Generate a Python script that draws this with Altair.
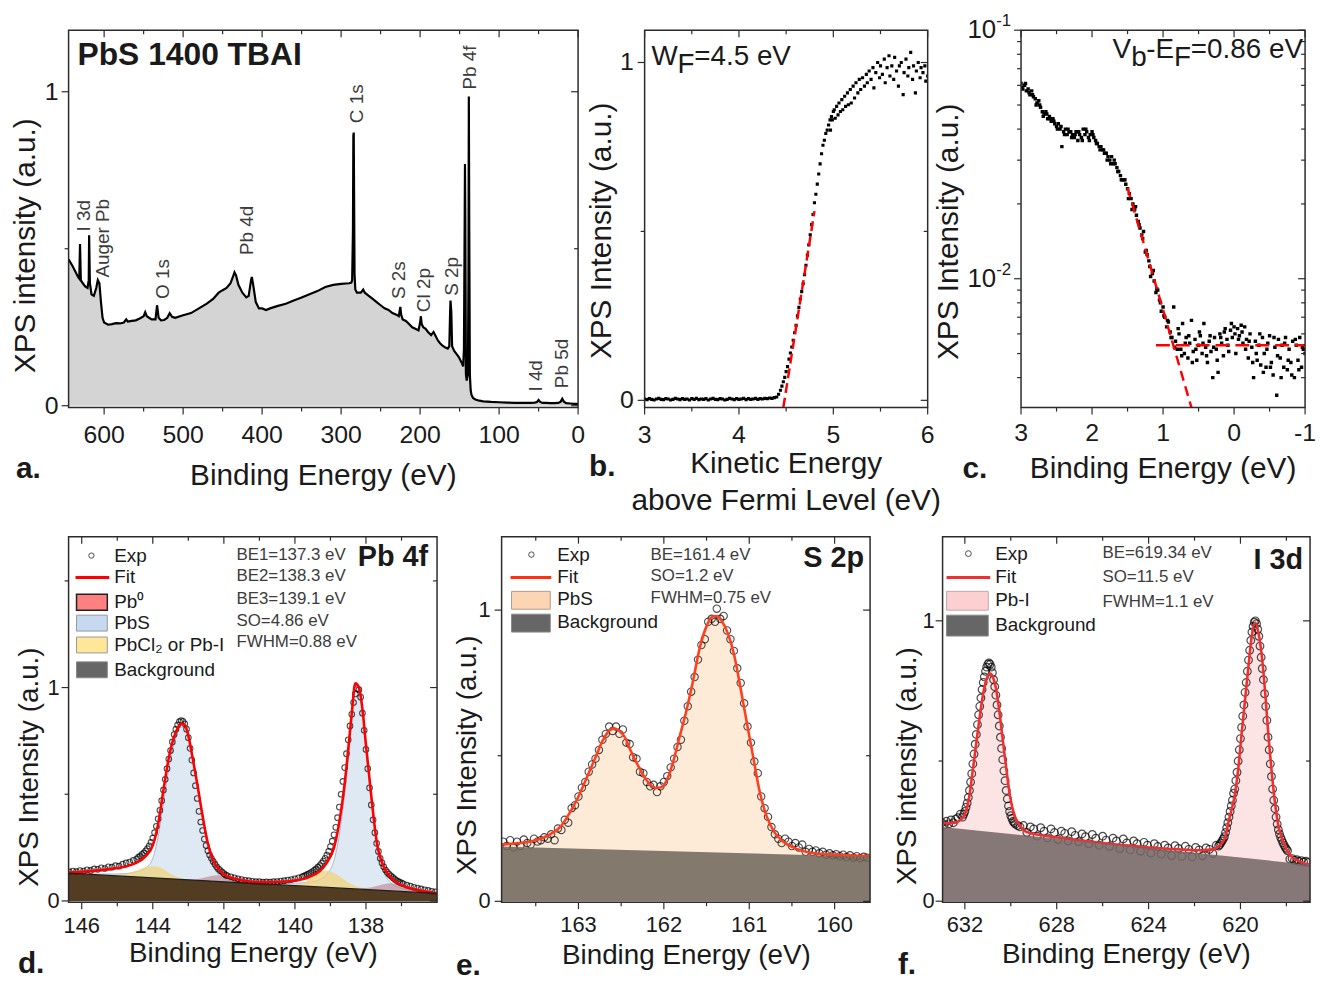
import altair as alt
import pandas as pd

FONT = "Liberation Sans"
INK = "#1a1a1a"
GREY_TXT = "#3c3c3c"
FRAME = "#2b2b2b"

# ---------------- panel a : survey spectrum (BE eV, intensity) ----------------
SURVEY = [(645, 0.466), (640, 0.445), (636, 0.425), (633, 0.41), (631.5, 0.405), (630.5, 0.515),
          (629.5, 0.40), (627, 0.39), (624, 0.38), (621, 0.375), (619.5, 0.40), (619, 0.543),
          (618, 0.39), (616, 0.355), (613, 0.35), (610, 0.375), (608, 0.40), (606, 0.39),
          (604, 0.33), (602, 0.28), (600, 0.265), (595, 0.258), (590, 0.26), (585, 0.263),
          (580, 0.262), (575, 0.265), (572, 0.275), (570, 0.268), (565, 0.27), (560, 0.272),
          (555, 0.278), (550, 0.285), (548, 0.298), (546, 0.285), (540, 0.275), (535, 0.275),
          (533, 0.32), (531, 0.28), (528, 0.272), (524, 0.273), (520, 0.28), (517, 0.295),
          (514, 0.283), (510, 0.28), (500, 0.288), (490, 0.295), (480, 0.31), (470, 0.325),
          (462, 0.34), (455, 0.36), (450, 0.368), (445, 0.375), (440, 0.39), (437, 0.41),
          (435, 0.425), (433, 0.415), (430, 0.385), (425, 0.36), (420, 0.345), (417, 0.35),
          (414, 0.40), (413, 0.41), (411, 0.38), (408, 0.33), (404, 0.31), (400, 0.31),
          (395, 0.305), (390, 0.31), (380, 0.318), (370, 0.325), (360, 0.335), (350, 0.345),
          (340, 0.355), (330, 0.365), (320, 0.378), (310, 0.385), (300, 0.388), (290, 0.39),
          (287, 0.392), (286, 0.40), (285, 0.56), (284.5, 0.86), (284, 0.87), (283.5, 0.65),
          (283, 0.42), (282, 0.37), (280, 0.36), (275, 0.36), (272, 0.37), (270, 0.36),
          (265, 0.35), (260, 0.34), (255, 0.33), (250, 0.32), (245, 0.31), (240, 0.305),
          (235, 0.295), (230, 0.29), (227, 0.285), (226, 0.30), (225, 0.315), (224, 0.29),
          (222, 0.275), (218, 0.27), (214, 0.26), (210, 0.25), (206, 0.245), (202, 0.24),
          (200, 0.265), (199, 0.285), (198, 0.26), (196, 0.25), (193, 0.245), (190, 0.235),
          (186, 0.225), (183, 0.235), (181, 0.225), (178, 0.21), (175, 0.20), (172, 0.192),
          (168, 0.185), (165, 0.182), (163, 0.19), (162, 0.30), (161.5, 0.335), (160.5, 0.30),
          (159.5, 0.19), (157, 0.175), (154, 0.165), (151, 0.155), (149, 0.145), (147, 0.135),
          (145.5, 0.125), (144.5, 0.18), (143.5, 0.62), (143.2, 0.77), (142.8, 0.62), (142, 0.10),
          (141, 0.08), (139.5, 0.10), (138.8, 0.40), (138.3, 0.985), (137.8, 0.60), (137, 0.10),
          (136, 0.05), (135, 0.035), (133, 0.025), (130, 0.02), (125, 0.016), (120, 0.014),
          (110, 0.012), (100, 0.011), (90, 0.010), (80, 0.009), (70, 0.009), (60, 0.009),
          (55, 0.010), (52, 0.012), (50, 0.018), (48, 0.012), (45, 0.009), (40, 0.009),
          (35, 0.008), (30, 0.008), (25, 0.009), (22, 0.013), (20, 0.022), (18, 0.013),
          (15, 0.008), (10, 0.007), (5, 0.006), (0, 0.006)]
PEAK_LABELS = ["I 3d", "Auger Pb", "O 1s", "Pb 4d", "C 1s", "S 2s", "Cl 2p", "S 2p", "Pb 4f", "I 4d", "Pb 5d"]
PEAK_LABEL_BE = [625, 602, 526, 419, 279.5, 227, 195, 159, 137, 53, 20]
PEAK_LABEL_I = [0.555, 0.408, 0.34, 0.48, 0.90, 0.34, 0.298, 0.35, 1.007, 0.045, 0.056]

# ---------------- panel b : secondary electron cut-off (KE eV, intensity) ----------------
WF_BASE_KE = [3.0, 3.025, 3.05, 3.075, 3.1, 3.125, 3.15, 3.175, 3.2, 3.225, 3.25, 3.275, 3.3, 3.325,
              3.35, 3.375, 3.4, 3.425, 3.45, 3.475, 3.5, 3.525, 3.55, 3.575, 3.6, 3.625, 3.65, 3.675,
              3.7, 3.725, 3.75, 3.775, 3.8, 3.825, 3.85, 3.875, 3.9, 3.925, 3.95, 3.975, 4.0, 4.025,
              4.05, 4.075, 4.1, 4.125, 4.15, 4.175, 4.2, 4.225, 4.25, 4.275, 4.3, 4.325, 4.35, 4.375]
WF_BASE_I = [0.004, 0.002, 0.005, 0.003, 0.001, 0.004, 0.006, 0.003, 0.002, 0.005,
             0.004, 0.001, 0.003, 0.006, 0.004, 0.002, 0.005, 0.003, 0.004, 0.001,
             0.005, 0.003, 0.006, 0.002, 0.004, 0.003, 0.005, 0.001, 0.004, 0.006,
             0.003, 0.002, 0.005, 0.004, 0.001, 0.003, 0.006, 0.004, 0.002, 0.005,
             0.003, 0.004, 0.006, 0.002, 0.005, 0.003, 0.004, 0.006, 0.003, 0.005,
             0.004, 0.006, 0.005, 0.007, 0.006, 0.008]
WF_EDGE = [(4.40, 0.010), (4.42, 0.018), (4.44, 0.030), (4.455, 0.042), (4.47, 0.055), (4.485, 0.068),
           (4.50, 0.085), (4.515, 0.100), (4.53, 0.122), (4.545, 0.140), (4.56, 0.158), (4.575, 0.178),
           (4.59, 0.20), (4.605, 0.222), (4.62, 0.25), (4.635, 0.275), (4.65, 0.30), (4.665, 0.322),
           (4.68, 0.345), (4.695, 0.372), (4.71, 0.40), (4.725, 0.43), (4.74, 0.46), (4.755, 0.49),
           (4.77, 0.52), (4.785, 0.55), (4.80, 0.585), (4.815, 0.61), (4.83, 0.64), (4.845, 0.67),
           (4.86, 0.70), (4.875, 0.73), (4.89, 0.755), (4.905, 0.77), (4.92, 0.79), (4.935, 0.80),
           (4.95, 0.815), (4.965, 0.83), (4.97, 0.80), (4.98, 0.84), (4.99, 0.83), (5.0, 0.855),
           (5.01, 0.86), (5.02, 0.835), (5.035, 0.87), (5.05, 0.845), (5.06, 0.88), (5.075, 0.855),
           (5.09, 0.89), (5.10, 0.86), (5.12, 0.90), (5.13, 0.87), (5.15, 0.91), (5.16, 0.875),
           (5.18, 0.92), (5.19, 0.88), (5.21, 0.93), (5.225, 0.895), (5.24, 0.94), (5.26, 0.91),
           (5.275, 0.95), (5.29, 0.92), (5.31, 0.955), (5.33, 0.93), (5.35, 0.965), (5.36, 0.94),
           (5.38, 0.975), (5.40, 0.95), (5.42, 0.985), (5.43, 0.925), (5.45, 0.97), (5.47, 1.0),
           (5.49, 0.955), (5.50, 0.99), (5.52, 0.965), (5.54, 1.01), (5.55, 0.94), (5.57, 0.985),
           (5.59, 1.02), (5.60, 0.96), (5.62, 0.99), (5.64, 0.95), (5.65, 1.015), (5.67, 0.975),
           (5.69, 0.93), (5.70, 0.99), (5.72, 1.0), (5.74, 0.905), (5.75, 0.97), (5.77, 1.01),
           (5.79, 0.96), (5.80, 0.985), (5.82, 1.03), (5.84, 0.95), (5.85, 0.99), (5.87, 0.91),
           (5.88, 0.975), (5.90, 1.0), (5.92, 0.955), (5.93, 0.985), (5.95, 0.97), (5.97, 0.99),
           (5.98, 0.945), (6.0, 0.96)]
WF_FIT_KE = [4.47, 4.80]
WF_FIT_I = [-0.0215, 0.56]

# ---------------- panel c : valence band edge (BE eV, log intensity) ----------------
VB = [(3.000, 0.061), (2.975, 0.058), (2.950, 0.060), (2.925, 0.057), (2.900, 0.058), (2.875, 0.055),
      (2.850, 0.057), (2.825, 0.054), (2.800, 0.053), (2.775, 0.051), (2.750, 0.052), (2.725, 0.049),
      (2.700, 0.047), (2.675, 0.046), (2.650, 0.047), (2.625, 0.044), (2.600, 0.045), (2.575, 0.043),
      (2.550, 0.044), (2.525, 0.042), (2.500, 0.041), (2.475, 0.042), (2.450, 0.040), (2.425, 0.034),
      (2.400, 0.039), (2.375, 0.040), (2.350, 0.038), (2.325, 0.039), (2.300, 0.039), (2.275, 0.038),
      (2.250, 0.037), (2.225, 0.039), (2.200, 0.036), (2.175, 0.038), (2.150, 0.037), (2.125, 0.040),
      (2.100, 0.038), (2.075, 0.039), (2.050, 0.037), (2.025, 0.038), (2.000, 0.039), (1.975, 0.037),
      (1.950, 0.036), (1.925, 0.035), (1.900, 0.034), (1.875, 0.034), (1.850, 0.033), (1.825, 0.032),
      (1.800, 0.032), (1.775, 0.031), (1.750, 0.030), (1.725, 0.031), (1.700, 0.029), (1.675, 0.029),
      (1.650, 0.028), (1.625, 0.027), (1.600, 0.026), (1.575, 0.025), (1.550, 0.025), (1.525, 0.024),
      (1.500, 0.023), (1.475, 0.022), (1.450, 0.021), (1.425, 0.020), (1.400, 0.019), (1.375, 0.018),
      (1.350, 0.017), (1.325, 0.016), (1.300, 0.015), (1.275, 0.0155), (1.250, 0.0128), (1.225, 0.0125),
      (1.200, 0.0118), (1.175, 0.0102), (1.150, 0.0105), (1.125, 0.0098), (1.100, 0.0088), (1.075, 0.0090),
      (1.050, 0.0082), (1.025, 0.0074), (1.000, 0.0077), (0.975, 0.0070), (0.950, 0.0064), (0.925, 0.0067),
      (0.900, 0.0061), (0.875, 0.0058), (0.850, 0.0077), (0.825, 0.0056), (0.800, 0.0052),
      (0.775, 0.0060), (0.750, 0.0052), (0.725, 0.0066), (0.700, 0.0050), (0.675, 0.0058), (0.650, 0.0048),
      (0.625, 0.0055), (0.600, 0.0068), (0.575, 0.0051), (0.550, 0.0057), (0.525, 0.0047), (0.500, 0.0054),
      (0.475, 0.0059), (0.450, 0.0050), (0.425, 0.0066), (0.400, 0.0053), (0.375, 0.0046), (0.350, 0.0056),
      (0.325, 0.0051), (0.300, 0.0040), (0.275, 0.0058), (0.250, 0.0052), (0.225, 0.0042), (0.200, 0.0060),
      (0.175, 0.0055), (0.150, 0.0049), (0.125, 0.0063), (0.100, 0.0057), (0.075, 0.0051), (0.050, 0.0062),
      (0.025, 0.0058), (0.000, 0.0064), (-0.025, 0.0050), (-0.050, 0.0063), (-0.075, 0.0059), (-0.100, 0.0065),
      (-0.125, 0.0055), (-0.150, 0.0064), (-0.175, 0.0057), (-0.200, 0.0048), (-0.225, 0.0060), (-0.250, 0.0053),
      (-0.275, 0.0040), (-0.300, 0.0056), (-0.325, 0.0047), (-0.350, 0.0054), (-0.375, 0.0045), (-0.400, 0.0058),
      (-0.425, 0.0050), (-0.450, 0.0044), (-0.475, 0.0055), (-0.500, 0.0059), (-0.525, 0.0046), (-0.550, 0.0041),
      (-0.575, 0.0053), (-0.600, 0.0034), (-0.625, 0.0057), (-0.650, 0.0048), (-0.675, 0.0054), (-0.700, 0.0044),
      (-0.725, 0.0058), (-0.750, 0.0043), (-0.775, 0.0052), (-0.800, 0.0046), (-0.825, 0.0056), (-0.850, 0.0040),
      (-0.875, 0.0054), (-0.900, 0.0047), (-0.925, 0.0058), (-0.950, 0.0044), (-0.975, 0.0052), (-1.000, 0.0050)]
VB_EXTRA = [(2.9875, 0.059), (2.9375, 0.061), (2.8875, 0.056), (2.8375, 0.055), (2.7875, 0.050), (2.7375, 0.050),
            (2.6875, 0.045), (2.6375, 0.046), (2.5875, 0.044), (2.5375, 0.043), (2.4875, 0.040), (2.4375, 0.041),
            (2.3875, 0.038), (2.3375, 0.040), (2.2875, 0.037), (2.2375, 0.038), (2.1875, 0.039), (2.1375, 0.036),
            (2.0875, 0.040), (2.0375, 0.036), (1.9875, 0.038), (1.9375, 0.035), (1.8875, 0.033), (1.8375, 0.033),
            (1.7875, 0.030), (1.7375, 0.029), (1.6875, 0.030), (1.6375, 0.027), (1.5875, 0.025), (1.5375, 0.025),
            (1.4875, 0.021), (1.4375, 0.019), (1.3875, 0.0195), (1.3375, 0.0165), (1.2875, 0.0145), (1.2375, 0.0130),
            (1.1875, 0.0112), (1.1375, 0.0108), (1.0875, 0.0091), (1.0375, 0.0080), (0.9875, 0.0071), (0.9375, 0.0068),
            (0.8875, 0.0058), (0.8375, 0.0053), (0.7875, 0.0063), (0.7375, 0.0049), (0.6875, 0.0055), (0.6375, 0.0059),
            (0.5875, 0.0046), (0.5375, 0.0052), (0.4875, 0.0061), (0.4375, 0.0055), (0.3875, 0.0049), (0.3375, 0.0059),
            (0.2875, 0.0053), (0.2375, 0.0047), (0.1875, 0.0058), (0.1375, 0.0061), (0.0875, 0.0054), (0.0375, 0.0066),
            (-0.0125, 0.0060), (-0.0625, 0.0057), (-0.1125, 0.0061), (-0.1625, 0.0052), (-0.2125, 0.0056),
            (-0.2625, 0.0046), (-0.3125, 0.0050), (-0.3625, 0.0060), (-0.4125, 0.0042), (-0.4625, 0.0052),
            (-0.5125, 0.0044), (-0.5625, 0.0058), (-0.6125, 0.0049), (-0.6625, 0.0040), (-0.7125, 0.0055),
            (-0.7625, 0.0047), (-0.8125, 0.0041), (-0.8625, 0.0057), (-0.9125, 0.0043), (-0.9625, 0.0053)]
VB_EDGE_FIT_BE = [1.5, 0.6]
VB_EDGE_FIT_I = [0.0232, 0.00303]
VB_BASE_FIT_BE = [1.1, -1.0]
VB_BASE_FIT_I = [0.0054, 0.0054]

# ---------------- panel d : Pb 4f ----------------
PB4F_FIT = [(146.4, 0.133), (146.0, 0.137), (145.6, 0.142), (145.2, 0.149), (144.8, 0.160), (144.5, 0.176),
            (144.2, 0.21), (144.0, 0.26), (143.85, 0.36), (143.7, 0.52), (143.55, 0.67), (143.4, 0.77),
            (143.3, 0.81), (143.2, 0.83), (143.1, 0.825), (143.0, 0.775), (142.9, 0.69), (142.75, 0.55),
            (142.6, 0.40), (142.45, 0.27), (142.3, 0.19), (142.1, 0.14), (141.9, 0.115), (141.6, 0.10),
            (141.2, 0.09), (140.8, 0.088), (140.4, 0.09), (140.0, 0.096), (139.6, 0.112), (139.3, 0.14),
            (139.1, 0.18), (138.9, 0.25), (138.75, 0.37), (138.6, 0.55), (138.5, 0.71), (138.4, 0.88),
            (138.3, 1.02), (138.2, 1.0), (138.1, 0.90), (138.0, 0.73), (137.85, 0.49), (137.7, 0.28),
            (137.5, 0.16), (137.3, 0.11), (137.1, 0.083), (136.8, 0.062), (136.4, 0.047), (136.0, 0.037)]
PB4F_PBS = [(146.4, 0.131), (146.0, 0.128), (145.6, 0.126), (145.2, 0.126), (144.8, 0.128), (144.5, 0.135),
            (144.2, 0.155), (144.0, 0.20), (143.85, 0.30), (143.7, 0.46), (143.55, 0.62), (143.4, 0.74),
            (143.3, 0.79), (143.2, 0.815), (143.1, 0.81), (143.0, 0.765), (142.9, 0.68), (142.75, 0.54),
            (142.6, 0.385), (142.45, 0.25), (142.3, 0.165), (142.1, 0.115), (141.9, 0.098), (141.6, 0.09),
            (141.2, 0.085), (140.8, 0.082), (140.4, 0.082), (140.0, 0.083), (139.6, 0.088), (139.3, 0.10),
            (139.1, 0.125), (138.9, 0.19), (138.75, 0.31), (138.6, 0.50), (138.5, 0.66), (138.4, 0.85),
            (138.3, 0.99), (138.2, 0.985), (138.1, 0.885), (138.0, 0.71), (137.85, 0.47), (137.7, 0.255),
            (137.5, 0.135), (137.3, 0.085), (137.1, 0.066), (136.8, 0.052), (136.4, 0.042), (136.0, 0.035)]
PB4F_PBCL = [(146.4, 0.130), (145.6, 0.123), (145.2, 0.121), (144.8, 0.126), (144.5, 0.14), (144.2, 0.158),
             (144.0, 0.163), (143.85, 0.160), (143.7, 0.148), (143.55, 0.132), (143.4, 0.118), (143.2, 0.106),
             (143.0, 0.100), (142.6, 0.096), (140.4, 0.076), (140.0, 0.077), (139.7, 0.09), (139.45, 0.12),
             (139.2, 0.143), (139.0, 0.138), (138.8, 0.12), (138.6, 0.098), (138.4, 0.078), (138.2, 0.064),
             (137.85, 0.055), (136.0, 0.035)]
PB4F_PB0 = [(146.4, 0.130), (143.0, 0.099), (142.7, 0.104), (142.45, 0.113), (142.2, 0.12), (141.95, 0.113),
            (141.7, 0.098), (141.4, 0.087), (141.0, 0.081), (138.3, 0.057), (138.0, 0.06), (137.75, 0.068),
            (137.5, 0.078), (137.3, 0.083), (137.1, 0.079), (136.85, 0.066), (136.6, 0.05), (136.3, 0.04),
            (136.0, 0.035)]
PB4F_BG = [(146.4, 0.130), (136.0, 0.035)]
PB4F_EXP = [(146.35, 0.136), (146.25, 0.14), (146.15, 0.137), (146.05, 0.142), (145.95, 0.14), (145.85, 0.146),
            (145.75, 0.143), (145.65, 0.15), (145.55, 0.148), (145.45, 0.155), (145.35, 0.152), (145.25, 0.16),
            (145.15, 0.158), (145.05, 0.165), (144.95, 0.163), (144.85, 0.172), (144.75, 0.178), (144.65, 0.182),
            (144.55, 0.19), (144.45, 0.197), (144.40, 0.205), (144.35, 0.21), (144.30, 0.218), (144.25, 0.225),
            (144.20, 0.235), (144.15, 0.245), (144.10, 0.258), (144.05, 0.275), (144.00, 0.295), (143.95, 0.32),
            (143.90, 0.35), (143.85, 0.385), (143.80, 0.425), (143.75, 0.47), (143.70, 0.52), (143.65, 0.57),
            (143.60, 0.62), (143.55, 0.665), (143.50, 0.705), (143.45, 0.745), (143.40, 0.78), (143.35, 0.805),
            (143.30, 0.825), (143.25, 0.84), (143.20, 0.845), (143.15, 0.842), (143.10, 0.83), (143.05, 0.805),
            (143.00, 0.765), (142.95, 0.715), (142.90, 0.66), (142.85, 0.60), (142.80, 0.54), (142.75, 0.48),
            (142.70, 0.42), (142.65, 0.37), (142.60, 0.33), (142.55, 0.29), (142.50, 0.26), (142.45, 0.235),
            (142.40, 0.215), (142.35, 0.20), (142.30, 0.185), (142.25, 0.172), (142.20, 0.16), (142.15, 0.15),
            (142.10, 0.142), (142.05, 0.135), (142.00, 0.128), (141.95, 0.122), (141.90, 0.118), (141.8, 0.113),
            (141.7, 0.108), (141.6, 0.104), (141.5, 0.10), (141.4, 0.097), (141.3, 0.095), (141.2, 0.092),
            (141.1, 0.09), (141.0, 0.09), (140.9, 0.088), (140.8, 0.089), (140.7, 0.088), (140.6, 0.09),
            (140.5, 0.091), (140.4, 0.093), (140.3, 0.095), (140.2, 0.098), (140.1, 0.10), (140.0, 0.104),
            (139.9, 0.108), (139.8, 0.113), (139.75, 0.116), (139.70, 0.12), (139.65, 0.124), (139.60, 0.128),
            (139.55, 0.133), (139.50, 0.138), (139.45, 0.144), (139.40, 0.15), (139.35, 0.158), (139.30, 0.166),
            (139.25, 0.176), (139.20, 0.187), (139.15, 0.20), (139.10, 0.215), (139.05, 0.232), (139.00, 0.255),
            (138.95, 0.28), (138.90, 0.31), (138.85, 0.345), (138.80, 0.39), (138.75, 0.44), (138.70, 0.50),
            (138.65, 0.56), (138.60, 0.625), (138.55, 0.69), (138.50, 0.755), (138.45, 0.82), (138.40, 0.875),
            (138.35, 0.93), (138.30, 0.97), (138.25, 0.995), (138.20, 0.99), (138.15, 0.955), (138.10, 0.88),
            (138.05, 0.80), (138.00, 0.71), (137.95, 0.62), (137.90, 0.53), (137.85, 0.45), (137.80, 0.38),
            (137.75, 0.32), (137.70, 0.27), (137.65, 0.232), (137.60, 0.20), (137.55, 0.178), (137.50, 0.16),
            (137.45, 0.145), (137.40, 0.134), (137.35, 0.125), (137.30, 0.118), (137.25, 0.11), (137.20, 0.103),
            (137.15, 0.097), (137.10, 0.092), (137.05, 0.088), (137.00, 0.084), (136.95, 0.08), (136.85, 0.074),
            (136.75, 0.069), (136.65, 0.064), (136.55, 0.06), (136.45, 0.056), (136.35, 0.052), (136.25, 0.049),
            (136.15, 0.045), (136.05, 0.042)]

# ---------------- panel e : S 2p ----------------
S2P_FIT = [(163.90, 0.195), (163.70, 0.200), (163.55, 0.206), (163.40, 0.220), (163.30, 0.236), (163.20, 0.260),
           (163.10, 0.305), (163.00, 0.36), (162.90, 0.427), (162.80, 0.495), (162.72, 0.55), (162.65, 0.583),
           (162.59, 0.594), (162.52, 0.585), (162.45, 0.56), (162.40, 0.525), (162.30, 0.465), (162.20, 0.415),
           (162.10, 0.39), (162.03, 0.392), (161.96, 0.42), (161.90, 0.47), (161.82, 0.56), (161.74, 0.65),
           (161.66, 0.755), (161.58, 0.87), (161.50, 0.945), (161.43, 0.978), (161.38, 0.98), (161.32, 0.962),
           (161.25, 0.92), (161.18, 0.85), (161.10, 0.73), (161.02, 0.60), (160.95, 0.49), (160.88, 0.38),
           (160.80, 0.295), (160.70, 0.235), (160.60, 0.205), (160.45, 0.181), (160.30, 0.168), (160.10, 0.162),
           (159.90, 0.159), (159.585, 0.155)]
S2P_BG = [(163.90, 0.188), (159.585, 0.153)]
S2P_EXP = [(163.88, 0.205), (163.84, 0.19), (163.80, 0.21), (163.76, 0.185), (163.72, 0.205), (163.68, 0.19),
           (163.64, 0.212), (163.60, 0.20), (163.56, 0.195), (163.52, 0.215), (163.48, 0.205), (163.44, 0.21),
           (163.40, 0.22), (163.36, 0.215), (163.32, 0.23), (163.28, 0.21), (163.24, 0.25), (163.20, 0.245),
           (163.16, 0.28), (163.12, 0.27), (163.08, 0.32), (163.04, 0.33), (163.00, 0.36), (162.96, 0.39),
           (162.92, 0.41), (162.88, 0.445), (162.84, 0.47), (162.80, 0.49), (162.76, 0.52), (162.72, 0.555),
           (162.68, 0.575), (162.64, 0.60), (162.60, 0.585), (162.56, 0.60), (162.52, 0.575), (162.48, 0.59),
           (162.44, 0.545), (162.40, 0.54), (162.36, 0.495), (162.32, 0.49), (162.28, 0.445), (162.24, 0.44),
           (162.20, 0.41), (162.16, 0.395), (162.12, 0.40), (162.08, 0.375), (162.04, 0.395), (162.00, 0.41),
           (161.96, 0.43), (161.92, 0.46), (161.88, 0.49), (161.84, 0.53), (161.80, 0.555), (161.76, 0.62),
           (161.72, 0.67), (161.68, 0.72), (161.64, 0.77), (161.60, 0.83), (161.56, 0.88), (161.52, 0.90),
           (161.48, 0.96), (161.44, 0.97), (161.40, 0.96), (161.38, 1.005), (161.34, 0.97), (161.30, 0.98),
           (161.26, 0.93), (161.22, 0.90), (161.18, 0.86), (161.14, 0.80), (161.10, 0.75), (161.06, 0.68),
           (161.02, 0.60), (160.98, 0.545), (160.94, 0.48), (160.90, 0.44), (160.86, 0.36), (160.82, 0.32),
           (160.78, 0.29), (160.74, 0.255), (160.70, 0.23), (160.66, 0.215), (160.62, 0.20), (160.58, 0.215),
           (160.54, 0.205), (160.50, 0.19), (160.46, 0.20), (160.42, 0.185), (160.38, 0.195), (160.34, 0.17),
           (160.30, 0.18), (160.26, 0.17), (160.22, 0.175), (160.18, 0.165), (160.14, 0.17), (160.10, 0.16),
           (160.06, 0.165), (160.02, 0.158), (159.98, 0.162), (159.94, 0.155), (159.90, 0.16), (159.86, 0.152),
           (159.82, 0.158), (159.78, 0.15), (159.74, 0.155), (159.70, 0.148), (159.66, 0.153), (159.62, 0.15)]

# ---------------- panel f : I 3d ----------------
I3D_FIT = [(633.0, 0.278), (632.6, 0.279), (632.35, 0.282), (632.2, 0.29), (632.0, 0.31), (631.8, 0.378),
           (631.65, 0.47), (631.5, 0.566), (631.35, 0.66), (631.2, 0.742), (631.05, 0.795), (630.9, 0.812),
           (630.78, 0.80), (630.66, 0.765), (630.5, 0.68), (630.37, 0.589), (630.22, 0.49), (630.08, 0.40),
           (629.95, 0.34), (629.79, 0.296), (629.6, 0.27), (629.36, 0.249), (628.8, 0.237), (628.3, 0.231),
           (627.5, 0.222), (626.5, 0.212), (625.5, 0.203), (624.5, 0.196), (623.5, 0.189), (622.5, 0.184),
           (621.8, 0.182), (621.3, 0.184), (621.05, 0.19), (620.9, 0.20), (620.68, 0.225), (620.5, 0.29),
           (620.25, 0.378), (620.1, 0.47), (619.96, 0.589), (619.8, 0.72), (619.67, 0.824), (619.5, 0.95),
           (619.36, 0.994), (619.2, 0.95), (619.05, 0.86), (618.9, 0.72), (618.78, 0.589), (618.65, 0.47),
           (618.5, 0.354), (618.35, 0.27), (618.2, 0.225), (618.0, 0.185), (617.8, 0.161), (617.5, 0.145),
           (617.0, 0.131)]
I3D_BG = [(632.97, 0.265), (616.97, 0.130)]
I3D_EXP = [(633.0, 0.28), (632.9, 0.272), (632.8, 0.285), (632.7, 0.276), (632.6, 0.29), (632.5, 0.28),
           (632.4, 0.293), (632.3, 0.298), (632.2, 0.31), (632.10, 0.30), (632.05, 0.31), (632.00, 0.32),
           (631.95, 0.335), (631.90, 0.35), (631.85, 0.37), (631.80, 0.395), (631.75, 0.425), (631.70, 0.455),
           (631.65, 0.49), (631.60, 0.525), (631.55, 0.56), (631.50, 0.595), (631.45, 0.63), (631.40, 0.665),
           (631.35, 0.695), (631.30, 0.725), (631.25, 0.755), (631.20, 0.78), (631.15, 0.80), (631.10, 0.82),
           (631.05, 0.835), (631.00, 0.845), (630.95, 0.85), (630.90, 0.845), (630.85, 0.835), (630.80, 0.815),
           (630.75, 0.79), (630.70, 0.765), (630.65, 0.735), (630.60, 0.70), (630.55, 0.665), (630.50, 0.625),
           (630.45, 0.585), (630.40, 0.545), (630.35, 0.505), (630.30, 0.465), (630.25, 0.43), (630.20, 0.395),
           (630.15, 0.365), (630.10, 0.34), (630.05, 0.32), (630.00, 0.305), (629.95, 0.295), (629.90, 0.285),
           (629.85, 0.28), (629.80, 0.275), (629.70, 0.27), (629.60, 0.265),
           (629.45, 0.27), (629.30, 0.245), (629.15, 0.265), (629.00, 0.258), (628.85, 0.232), (628.70, 0.262),
           (628.55, 0.25), (628.40, 0.226), (628.25, 0.258), (628.10, 0.245), (627.95, 0.22), (627.80, 0.25),
           (627.65, 0.242), (627.50, 0.215), (627.35, 0.248), (627.20, 0.235), (627.05, 0.212), (626.90, 0.24),
           (626.75, 0.23), (626.60, 0.205), (626.45, 0.238), (626.30, 0.225), (626.15, 0.20), (626.00, 0.232),
           (625.85, 0.218), (625.70, 0.195), (625.55, 0.225), (625.40, 0.215), (625.25, 0.188), (625.10, 0.222),
           (624.95, 0.208), (624.80, 0.183), (624.65, 0.215), (624.50, 0.205), (624.35, 0.178), (624.20, 0.21),
           (624.05, 0.20), (623.90, 0.172), (623.75, 0.205), (623.60, 0.195), (623.45, 0.168), (623.30, 0.20),
           (623.15, 0.19), (623.00, 0.163), (622.85, 0.198), (622.70, 0.188), (622.55, 0.16), (622.40, 0.196),
           (622.25, 0.185), (622.10, 0.158), (621.95, 0.192), (621.80, 0.183), (621.65, 0.162), (621.50, 0.19),
           (621.35, 0.185), (621.20, 0.17), (621.05, 0.20),
           (620.95, 0.197), (620.90, 0.202), (620.85, 0.208), (620.80, 0.215), (620.75, 0.222), (620.70, 0.23),
           (620.65, 0.245), (620.60, 0.262), (620.55, 0.28), (620.50, 0.30), (620.45, 0.32), (620.40, 0.34),
           (620.35, 0.36), (620.30, 0.385), (620.25, 0.40), (620.20, 0.43), (620.15, 0.46), (620.10, 0.50),
           (620.05, 0.54), (620.00, 0.58), (619.95, 0.62), (619.90, 0.66), (619.85, 0.70), (619.80, 0.745),
           (619.75, 0.78), (619.70, 0.82), (619.65, 0.86), (619.60, 0.895), (619.55, 0.93), (619.50, 0.96),
           (619.45, 0.98), (619.40, 0.995), (619.35, 1.0), (619.30, 0.99), (619.25, 0.97), (619.20, 0.945),
           (619.15, 0.91), (619.10, 0.87), (619.05, 0.83), (619.00, 0.79), (618.95, 0.74), (618.90, 0.695),
           (618.85, 0.645), (618.80, 0.585), (618.75, 0.54), (618.70, 0.49), (618.65, 0.445), (618.60, 0.40),
           (618.55, 0.36), (618.50, 0.33), (618.45, 0.30), (618.40, 0.275), (618.35, 0.255), (618.30, 0.24),
           (618.25, 0.228), (618.20, 0.218), (618.15, 0.208), (618.10, 0.20), (618.05, 0.192), (618.00, 0.186),
           (617.95, 0.18), (617.85, 0.15), (617.75, 0.152), (617.65, 0.146), (617.55, 0.148), (617.45, 0.142),
           (617.35, 0.145), (617.25, 0.14), (617.15, 0.143), (617.05, 0.138)]

# ---------------- tick positions / tick labels ----------------
A_XLAB = [600, 500, 400, 300, 200, 100, 0]
A_XMIN = [550, 450, 350, 250, 150, 50]
B_XLAB = [3, 4, 5, 6]
B_XMIN = [3.5, 4.5, 5.5]
C_XLAB = [3, 2, 1, 0, -1]
C_XMIN = [2.5, 1.5, 0.5, -0.5]
C_YLAB = [0.1, 0.01]
C_YEXP = ["-1", "-2"]
C_YMIN = [0.004, 0.005, 0.006, 0.007, 0.008, 0.009, 0.02, 0.03, 0.04, 0.05, 0.06, 0.07, 0.08, 0.09]
D_XLAB = [146, 144, 142, 140, 138]
D_XMIN = [145, 143, 141, 139, 137]
E_XLAB = [163, 162, 161, 160]
E_XMIN = [163.5, 162.5, 161.5, 160.5]
F_XLAB = [632, 628, 624, 620]
F_XMIN = [630, 626, 622, 618]
Y01_LAB = [0, 1]

ONE = pd.DataFrame({"k": [0]})


def df2(pairs, a="x", b="y"):
    return pd.DataFrame(pairs, columns=[a, b])


def txt(s, x, y, size, bold=False, align="left", color=INK, angle=None):
    kw = dict(text=s, font=FONT, fontSize=size, fontWeight="bold" if bold else "normal",
              align=align, baseline="middle", color=color)
    if angle is not None:
        kw["angle"] = angle
    return alt.Chart(ONE).mark_text(**kw).encode(x=alt.value(x), y=alt.value(y))


def swatch(x1, x2, y1, y2, fill, stroke, sw=1.0):
    return alt.Chart(ONE).mark_rect(fill=fill, stroke=stroke, strokeWidth=sw).encode(
        x=alt.value(x1), x2=alt.value(x2), y=alt.value(y1), y2=alt.value(y2))


def seg(x1, x2, y, color, sw=3):
    return alt.Chart(ONE).mark_rule(color=color, strokeWidth=sw).encode(
        x=alt.value(x1), x2=alt.value(x2), y=alt.value(y))


def dot(x, y, size=28):
    return alt.Chart(ONE).mark_point(shape="circle", filled=False, color="black", size=size, strokeWidth=1).encode(
        x=alt.value(x), y=alt.value(y))


def frame(w, h):
    return alt.Chart(ONE).mark_rect(fillOpacity=0, stroke=FRAME, strokeWidth=1.5).encode(
        x=alt.value(0), x2=alt.value(w), y=alt.value(0), y2=alt.value(h))


def ticks(xs, ys, w, h, xmaj, xmin, ymaj, ymin, maj=7, mnr=4):
    out = []
    for vals, L in ((xmaj, maj), (xmin, mnr)):
        if not vals:
            continue
        src = alt.Chart(pd.DataFrame({"t": vals})).mark_rule(color=FRAME, strokeWidth=1.2)
        xe = alt.X("t:Q", scale=xs, axis=None)
        out.append(src.encode(x=xe, y=alt.value(h), y2=alt.value(h + L)))
        out.append(src.encode(x=xe, y=alt.value(0), y2=alt.value(L)))
    for vals, L in ((ymaj, maj), (ymin, mnr)):
        if not vals:
            continue
        src = alt.Chart(pd.DataFrame({"t": vals})).mark_rule(color=FRAME, strokeWidth=1.2)
        ye = alt.Y("t:Q", scale=ys, axis=None)
        out.append(src.encode(y=ye, x=alt.value(0), x2=alt.value(-L)))
        out.append(src.encode(y=ye, x=alt.value(w), x2=alt.value(w - L)))
    return out


def xlabels(xs, vals, y, size):
    d = pd.DataFrame({"t": vals, "s": [f"{v:g}" for v in vals]})
    return alt.Chart(d).mark_text(font=FONT, fontSize=size, color=INK, align="center", baseline="middle").encode(
        x=alt.X("t:Q", scale=xs, axis=None), y=alt.value(y), text="s:N")


def ylabels(ys, vals, x, size, strings=None, dy=0, align="right"):
    d = pd.DataFrame({"t": vals, "s": strings if strings else [f"{v:g}" for v in vals]})
    return alt.Chart(d).mark_text(font=FONT, fontSize=size, color=INK, align=align, baseline="middle", dy=dy).encode(
        y=alt.Y("t:Q", scale=ys, axis=None), x=alt.value(x), text="s:N")


# ======================= panel a =======================
WA, HA = 513, 380
xs_a = alt.Scale(domain=[645, 0], nice=False, zero=False)
ys_a = alt.Scale(domain=[-0.006, 1.196], nice=False, zero=False)
survey = df2(SURVEY)
a_area = alt.Chart(survey).mark_area(color="#d4d4d4", clip=True).encode(
    x=alt.X("x:Q", scale=xs_a, axis=None), y=alt.Y("y:Q", scale=ys_a, axis=None), y2=alt.datum(0))
a_line = alt.Chart(survey).mark_line(color="black", strokeWidth=2.2, clip=True).encode(
    x=alt.X("x:Q", scale=xs_a, axis=None), y=alt.Y("y:Q", scale=ys_a, axis=None))
a_lab = alt.Chart(pd.DataFrame({"t": PEAK_LABELS, "x": PEAK_LABEL_BE, "y": PEAK_LABEL_I})).mark_text(
    angle=270, align="left", baseline="middle", font=FONT, fontSize=19, color=GREY_TXT).encode(
    x=alt.X("x:Q", scale=xs_a, axis=None), y=alt.Y("y:Q", scale=ys_a, axis=None), text="t:N")
panel_a = alt.layer(
    a_area, a_line, a_lab,
    *ticks(xs_a, ys_a, WA, HA, A_XLAB, A_XMIN, Y01_LAB, [0.5]),
    frame(WA, HA),
    xlabels(xs_a, A_XLAB, HA + 28, 25),
    ylabels(ys_a, Y01_LAB, -10, 25),
    txt("Binding Energy (eV)", WA / 2, HA + 69, 30, align="center"),
    txt("XPS intensity (a.u.)", -43, 217, 30, align="center", angle=270),
    txt("PbS 1400 TBAI", 9, 25, 32, bold=True),
    txt("a.", -53, 442, 30, bold=True),
).properties(width=WA, height=HA)

# ======================= panel b =======================
WB, HB = 285, 380
xs_b = alt.Scale(domain=[3, 6], nice=False, zero=False)
ys_b = alt.Scale(domain=[-0.0215, 1.0956], nice=False, zero=False)
wf = pd.concat([pd.DataFrame({"x": WF_BASE_KE, "y": WF_BASE_I}), df2(WF_EDGE)], ignore_index=True)
b_pts = alt.Chart(wf).mark_square(size=10, color="black", opacity=1, clip=True).encode(
    x=alt.X("x:Q", scale=xs_b, axis=None), y=alt.Y("y:Q", scale=ys_b, axis=None))
b_fit = alt.Chart(pd.DataFrame({"x": WF_FIT_KE, "y": WF_FIT_I})).mark_line(
    color="#ff0000", strokeWidth=2.5, strokeDash=[10, 5], clip=True).encode(
    x=alt.X("x:Q", scale=xs_b, axis=None), y=alt.Y("y:Q", scale=ys_b, axis=None))
panel_b = alt.layer(
    b_pts, b_fit,
    *ticks(xs_b, ys_b, WB, HB, B_XLAB, B_XMIN, Y01_LAB, [0.5]),
    frame(WB, HB),
    xlabels(xs_b, B_XLAB, HB + 28, 25),
    ylabels(ys_b, Y01_LAB, -11, 25),
    txt("Kinetic Energy", WB / 2, 437, 30, align="center"),
    txt("above Fermi Level (eV)", WB / 2, 474, 30, align="center"),
    txt("XPS Intensity (a.u.)", -43, 202, 30, align="center", angle=270),
    txt("W", 7, 27, 28), txt("F", 33, 35, 28), txt("=4.5 eV", 50, 27, 28),
    txt("b.", -56, 440, 30, bold=True),
).properties(width=WB, height=HB)

# ======================= panel c =======================
WC, HC = 286, 380
xs_c = alt.Scale(domain=[3, -1], nice=False, zero=False)
ys_c = alt.Scale(type="log", domain=[0.00303, 0.1], nice=False)
vb = pd.concat([df2(VB), df2(VB_EXTRA)], ignore_index=True)
c_pts = alt.Chart(vb).mark_square(size=12, color="black", opacity=1, clip=True).encode(
    x=alt.X("x:Q", scale=xs_c, axis=None), y=alt.Y("y:Q", scale=ys_c, axis=None))
c_fit1 = alt.Chart(pd.DataFrame({"x": VB_EDGE_FIT_BE, "y": VB_EDGE_FIT_I})).mark_line(
    color="#ff0000", strokeWidth=2.5, strokeDash=[10, 6], clip=True).encode(
    x=alt.X("x:Q", scale=xs_c, axis=None), y=alt.Y("y:Q", scale=ys_c, axis=None))
c_fit2 = alt.Chart(pd.DataFrame({"x": VB_BASE_FIT_BE, "y": VB_BASE_FIT_I})).mark_line(
    color="#ff0000", strokeWidth=2.5, strokeDash=[14, 6], clip=True).encode(
    x=alt.X("x:Q", scale=xs_c, axis=None), y=alt.Y("y:Q", scale=ys_c, axis=None))
panel_c = alt.layer(
    c_pts, c_fit1, c_fit2,
    *ticks(xs_c, ys_c, WC, HC, C_XLAB, C_XMIN, C_YLAB, C_YMIN),
    frame(WC, HC),
    xlabels(xs_c, C_XLAB, HC + 26, 25),
    ylabels(ys_c, C_YLAB, -25, 26, strings=["10", "10"]),
    ylabels(ys_c, C_YLAB, -25, 17, strings=C_YEXP, dy=-9, align="left"),
    txt("Binding Energy (eV)", WC / 2, HC + 62, 30, align="center"),
    txt("XPS Intensity (a.u.)", -72, 203, 30, align="center", angle=270),
    txt("V", 92, 20, 28), txt("b", 111, 28, 28), txt("-E", 126, 20, 28), txt("F", 154, 28, 28),
    txt("=0.86 eV", 171, 20, 28),
    txt("c.", -59, 442, 30, bold=True),
).properties(width=WC, height=HC)

# ======================= panel d =======================
WD, HD = 371, 368
xs_d = alt.Scale(domain=[146.37, 136.0], nice=False, zero=False)
ys_d = alt.Scale(domain=[-0.006, 1.707], nice=False, zero=False)


def area_d(pairs, color, op, stroke=None):
    mk = dict(color=color, opacity=op, clip=True, interpolate="monotone")
    if stroke:
        mk["stroke"] = stroke
        mk["strokeWidth"] = 1
    return alt.Chart(df2(pairs)).mark_area(**mk).encode(
        x=alt.X("x:Q", scale=xs_d, axis=None), y=alt.Y("y:Q", scale=ys_d, axis=None), y2=alt.datum(0))


d_exp = alt.Chart(df2(PB4F_EXP)).mark_point(shape="circle", filled=False, color="black", size=32,
                                            strokeWidth=1.1, clip=True).encode(
    x=alt.X("x:Q", scale=xs_d, axis=None), y=alt.Y("y:Q", scale=ys_d, axis=None))
d_fit = alt.Chart(df2(PB4F_FIT)).mark_line(color="#ff0000", strokeWidth=2.6, interpolate="monotone", clip=True).encode(
    x=alt.X("x:Q", scale=xs_d, axis=None), y=alt.Y("y:Q", scale=ys_d, axis=None))
d_bg = alt.Chart(df2(PB4F_BG)).mark_area(color="#3f2c0f", opacity=0.86, clip=True).encode(
    x=alt.X("x:Q", scale=xs_d, axis=None), y=alt.Y("y:Q", scale=ys_d, axis=None), y2=alt.datum(0))
d_bgl = alt.Chart(df2(PB4F_BG)).mark_line(color="#1e1e1e", strokeWidth=1.2, clip=True).encode(
    x=alt.X("x:Q", scale=xs_d, axis=None), y=alt.Y("y:Q", scale=ys_d, axis=None))
LX = 46
panel_d = alt.layer(
    area_d(PB4F_PBS, "#dfe9f4", 1, stroke="#9fb8d8"),
    area_d(PB4F_PBCL, "#f0d27a", 0.75),
    area_d(PB4F_PB0, "#c08898", 0.65),
    d_exp, d_fit, d_bg, d_bgl,
    *ticks(xs_d, ys_d, WD, HD, D_XLAB, D_XMIN, Y01_LAB, [0.5, 1.5]),
    frame(WD, HD),
    xlabels(xs_d, D_XLAB, HD + 24, 22),
    ylabels(ys_d, Y01_LAB, -9, 22),
    txt("Binding Energy (eV)", 186, HD + 52, 28, align="center"),
    txt("XPS Intensity (a.u.)", -39, 232, 28, align="center", angle=270),
    dot(23, 19), txt("Exp", LX, 19, 19),
    seg(7, 41, 41, "#ff0000"), txt("Fit", LX, 41, 19),
    swatch(8, 39, 58, 74, "#ff8080", "#222222", 1.5), txt("Pb⁰", LX, 66, 19),
    swatch(8, 39, 79, 95, "#c6d9f0", "#9a9a9a"), txt("PbS", LX, 87, 19),
    swatch(8, 39, 101, 117, "#ffe699", "#9a9a9a"), txt("PbCl₂ or Pb-I", LX, 109, 19),
    swatch(8, 39, 126, 142, "#666666", "#888888"), txt("Background", LX, 134, 19),
    txt("BE1=137.3 eV", 169, 18, 17, color=GREY_TXT),
    txt("BE2=138.3 eV", 169, 40, 17, color=GREY_TXT),
    txt("BE3=139.1 eV", 169, 63, 17, color=GREY_TXT),
    txt("SO=4.86 eV", 169, 85, 17, color=GREY_TXT),
    txt("FWHM=0.88 eV", 169, 106, 17, color=GREY_TXT),
    txt("Pb 4f", 362, 20, 29, bold=True, align="right"),
    txt("d.", -51, 430, 30, bold=True),
).properties(width=WD, height=HD)

# ======================= panel e =======================
WE, HE = 371, 368
xs_e = alt.Scale(domain=[163.90, 159.585], nice=False, zero=False)
ys_e = alt.Scale(domain=[-0.003, 1.252], nice=False, zero=False)
e_area = alt.Chart(df2(S2P_FIT)).mark_area(color="#fdebd8", clip=True, interpolate="monotone").encode(
    x=alt.X("x:Q", scale=xs_e, axis=None), y=alt.Y("y:Q", scale=ys_e, axis=None), y2=alt.datum(0))
e_exp = alt.Chart(df2(S2P_EXP)).mark_point(shape="circle", filled=False, color="black", size=55,
                                           strokeWidth=1.1, clip=True).encode(
    x=alt.X("x:Q", scale=xs_e, axis=None), y=alt.Y("y:Q", scale=ys_e, axis=None))
e_fit = alt.Chart(df2(S2P_FIT)).mark_line(color="#ff4020", strokeWidth=2.6, interpolate="monotone", clip=True).encode(
    x=alt.X("x:Q", scale=xs_e, axis=None), y=alt.Y("y:Q", scale=ys_e, axis=None))
e_bg = alt.Chart(df2(S2P_BG)).mark_area(color="#70665b", opacity=0.86, clip=True).encode(
    x=alt.X("x:Q", scale=xs_e, axis=None), y=alt.Y("y:Q", scale=ys_e, axis=None), y2=alt.datum(0))
LXE = 56
panel_e = alt.layer(
    e_area, e_exp, e_fit, e_bg,
    *ticks(xs_e, ys_e, WE, HE, E_XLAB, E_XMIN, Y01_LAB, [0.5]),
    frame(WE, HE),
    xlabels(xs_e, E_XLAB, HE + 23, 22),
    ylabels(ys_e, Y01_LAB, -11, 22),
    txt("Binding Energy (eV)", 186, HE + 54, 28, align="center"),
    txt("XPS Intensity (a.u.)", -34, 220, 28, align="center", angle=270),
    dot(30, 18, 30), txt("Exp", LXE, 18, 19),
    seg(9, 50, 41, "#ff3010"), txt("Fit", LXE, 41, 19),
    swatch(10, 49, 55, 73, "#fcd5b4", "#b09a88"), txt("PbS", LXE, 63, 19),
    swatch(10, 49, 78, 96, "#666666", "#888888"), txt("Background", LXE, 86, 19),
    txt("BE=161.4 eV", 150, 18, 17, color=GREY_TXT),
    txt("SO=1.2 eV", 150, 40, 17, color=GREY_TXT),
    txt("FWHM=0.75 eV", 150, 62, 17, color=GREY_TXT),
    txt("S 2p", 365, 21, 29, bold=True, align="right"),
    txt("e.", -46, 432, 30, bold=True),
).properties(width=WE, height=HE)

# ======================= panel f =======================
WF, HF = 370, 368
xs_f = alt.Scale(domain=[632.97, 616.97], nice=False, zero=False)
ys_f = alt.Scale(domain=[-0.0035, 1.30], nice=False, zero=False)
f_area = alt.Chart(df2(I3D_FIT)).mark_area(color="#fde4e4", clip=True, interpolate="monotone").encode(
    x=alt.X("x:Q", scale=xs_f, axis=None), y=alt.Y("y:Q", scale=ys_f, axis=None), y2=alt.datum(0))
f_exp = alt.Chart(df2(I3D_EXP)).mark_point(shape="circle", filled=False, color="black", size=60,
                                           strokeWidth=1.2, clip=True).encode(
    x=alt.X("x:Q", scale=xs_f, axis=None), y=alt.Y("y:Q", scale=ys_f, axis=None))
f_fit = alt.Chart(df2(I3D_FIT)).mark_line(color="#f03030", strokeWidth=2.6, interpolate="monotone", clip=True).encode(
    x=alt.X("x:Q", scale=xs_f, axis=None), y=alt.Y("y:Q", scale=ys_f, axis=None))
f_bg = alt.Chart(df2(I3D_BG)).mark_area(color="#736666", opacity=0.86, clip=True).encode(
    x=alt.X("x:Q", scale=xs_f, axis=None), y=alt.Y("y:Q", scale=ys_f, axis=None), y2=alt.datum(0))
LXF = 53
panel_f = alt.layer(
    f_area, f_exp, f_fit, f_bg,
    *ticks(xs_f, ys_f, WF, HF, F_XLAB, F_XMIN, Y01_LAB, [0.5]),
    frame(WF, HF),
    xlabels(xs_f, F_XLAB, HF + 23, 22),
    ylabels(ys_f, Y01_LAB, -8, 22),
    txt("Binding Energy (eV)", 185, HF + 53, 28, align="center"),
    txt("XPS intensity (a.u.)", -35, 231, 28, align="center", angle=270),
    dot(26, 17, 34), txt("Exp", LXF, 17, 19),
    seg(4, 48, 41, "#f03030"), txt("Fit", LXF, 41, 19),
    swatch(4, 46, 55, 74, "#fcd0d0", "#c0a8a8"), txt("Pb-I", LXF, 64, 19),
    swatch(4, 46, 79, 100, "#666666", "#888888"), txt("Background", LXF, 89, 19),
    txt("BE=619.34 eV", 161, 16, 17, color=GREY_TXT),
    txt("SO=11.5 eV", 161, 41, 17, color=GREY_TXT),
    txt("FWHM=1.1 eV", 161, 66, 17, color=GREY_TXT),
    txt("I 3d", 363, 24, 29, bold=True, align="right"),
    txt("f.", -45, 431, 30, bold=True),
).properties(width=WF, height=HF)


def spacer(w, h):
    return alt.Chart(ONE).mark_point(opacity=0).encode(x=alt.value(0), y=alt.value(0)).properties(width=w, height=h)


row1 = alt.hconcat(panel_a, spacer(67, HA), panel_b, spacer(94, HA), panel_c, spacing=0, bounds="flush")
row2 = alt.hconcat(panel_d, spacer(65, HD), panel_e, spacer(73, HD), panel_f, spacing=0, bounds="flush")
chart = alt.vconcat(row1, row2, spacing=18).properties(
    padding={"left": 2, "top": 1, "right": 0, "bottom": 0}).configure(font=FONT).configure_view(strokeWidth=0)

chart.save("out.html", embed_options={"renderer": "svg", "actions": False})
